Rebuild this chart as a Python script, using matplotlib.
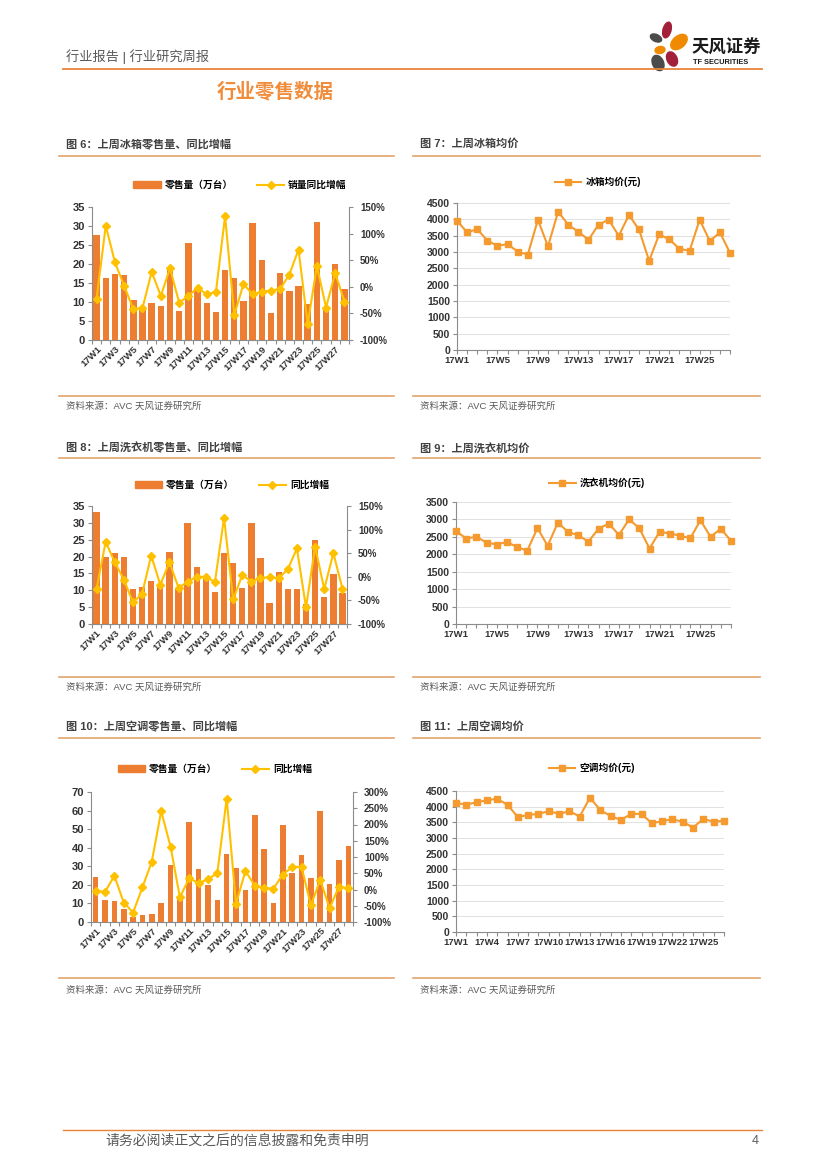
import matplotlib
matplotlib.use('Agg')
import matplotlib.pyplot as plt
import numpy as np
from matplotlib.lines import Line2D
from matplotlib.patches import Ellipse
from matplotlib.ticker import MultipleLocator, FuncFormatter

plt.rcParams['font.family'] = ['Liberation Sans', 'Noto Sans CJK SC', 'DejaVu Sans']
plt.rcParams['font.weight'] = 'bold'
plt.rcParams['axes.unicode_minus'] = False

# ---- data ----
weeks = ['17W%d' % i for i in range(1, 29)]
ac_weeks = weeks[:24] + ['17w25', '17w26', '17w27', '17w28']

fridge_vol = [27.5, 16.4, 17.4, 17.1, 10.5, 8.0, 9.8, 9.0, 18.3, 7.6, 25.6, 13.5, 9.8, 7.4,
              18.5, 16.3, 10.2, 30.8, 21.0, 7.0, 17.7, 13.0, 14.3, 9.4, 31.0, 8.5, 20.0, 13.3]
fridge_yoy = [-22, 115, 46, 2, -42, -40, 28, -17, 35, -30, -17, -2, -14, -10,
              133, -53, 5, -14, -9, -7, -4, 23, 70, -70, 39, -39, 26, -28]
fridge_price = [3960, 3600, 3700, 3350, 3190, 3240, 3015, 2915, 3990, 3170, 4235, 3835, 3620, 3375,
                3835, 3990, 3495, 4130, 3690, 2730, 3540, 3385, 3100, 3035, 3990, 3335, 3600, 2975]

wash_vol = [33.3, 20.0, 21.0, 19.8, 10.5, 11.0, 12.7, 11.0, 21.5, 10.5, 29.9, 16.8, 13.8, 9.4,
            21.0, 18.0, 10.6, 30.0, 19.5, 6.1, 15.3, 10.4, 10.3, 6.0, 25.0, 8.0, 14.8, 9.2]
wash_yoy = [-26, 74, 31, -6, -54, -36, 45, -17, 31, -23, -11, 0, 0, -11,
            125, -48, 4, -10, -2, -1, -3, 16, 60, -65, 64, -26, 50, -25]
wash_price = [2670, 2450, 2505, 2335, 2280, 2355, 2205, 2105, 2755, 2240, 2910, 2640, 2545, 2365,
              2735, 2880, 2555, 3005, 2745, 2165, 2650, 2595, 2535, 2460, 2975, 2500, 2735, 2385]

ac_vol = [24.2, 12.0, 11.5, 7.2, 2.5, 3.9, 4.3, 10.2, 30.8, 13.0, 54.0, 28.8, 20.0, 12.0,
          36.5, 29.0, 17.4, 57.5, 39.2, 10.2, 52.3, 26.3, 36.2, 23.6, 60.0, 20.4, 33.5, 41.0]
ac_yoy = [-4, -7, 42, -40, -71, 7, 86, 241, 132, -24, 35, 19, 32, 50,
          280, -44, 57, 12, 4, 3, 46, 69, 70, -49, 30, -58, 9, 4]
ac_price = [4120, 4065, 4140, 4205, 4255, 4055, 3670, 3735, 3770, 3855, 3770, 3855, 3685, 4290,
            3885, 3705, 3575, 3770, 3770, 3470, 3535, 3600, 3515, 3335, 3610, 3515, 3555]

BAR = '#ED7D31'
GOLD = '#FFC000'
ORANGE = '#F59A2F'
AXC = '#8c8c8c'
TXT = '#333333'
GREY = '#595959'
RULE = '#E2A46C'

W, H = 827, 1169
fig = plt.figure(figsize=(W / 100, H / 100), dpi=100)


def rect(l, t, r, b):
    return [l / W, 1 - b / H, (r - l) / W, (b - t) / H]


def fx(x):
    return x / W


def fy(y):
    return 1 - y / H


def hline(x0, x1, y, color, lw):
    fig.add_artist(Line2D([fx(x0), fx(x1)], [fy(y), fy(y)], transform=fig.transFigure,
                          color=color, lw=lw))


def text(x, y, s, **kw):
    kw.setdefault('va', 'center')
    fig.text(fx(x), fy(y), s, **kw)


def style(ax, ysize):
    for s in ['top', 'right']:
        ax.spines[s].set_visible(False)
    for s in ['left', 'bottom']:
        ax.spines[s].set_color(AXC)
        ax.spines[s].set_linewidth(0.8)
    ax.tick_params(colors=AXC, labelcolor=TXT, length=3, width=0.8, pad=1.5)
    ax.tick_params(axis='y', labelsize=ysize, pad=2)
    ax.tick_params(axis='x', labelsize=6.8)


def combo(box, vol, yoy, vmax, vstep, rlo, rhi, names, ticks, leg_xy, bw):
    ax = fig.add_axes(rect(*box))
    x = np.arange(len(vol))
    ax.bar(x, vol, width=bw, color=BAR, zorder=2)
    ax.set_xlim(-0.5, len(vol) - 0.5)
    ax.set_ylim(0, vmax)
    ax.yaxis.set_major_locator(MultipleLocator(vstep))
    style(ax, 8)
    ax.set_xticks(x[::2])
    ax.set_xticklabels(ticks[:len(vol):2], rotation=45, ha='right', rotation_mode='anchor')
    ax.set_xticks(np.arange(-0.5, len(vol)), minor=True)
    ax.tick_params(axis='x', which='major', length=0, pad=3)
    ax.tick_params(axis='x', which='minor', length=3, color=AXC, width=0.8)
    ax2 = ax.twinx()
    ax2.plot(x, yoy, color=GOLD, lw=1.5, marker='D', ms=4.5, clip_on=False)
    ax2.set_ylim(rlo, rhi)
    ax2.yaxis.set_major_locator(MultipleLocator(50))
    ax2.yaxis.set_major_formatter(FuncFormatter(lambda v, p: '%d%%' % v))
    for s in ['top', 'left', 'bottom']:
        ax2.spines[s].set_visible(False)
    ax2.spines['right'].set_color(AXC)
    ax2.spines['right'].set_linewidth(0.8)
    ax2.tick_params(colors=AXC, labelcolor=TXT, labelsize=7, length=3, width=0.8, pad=5)
    h1 = plt.Rectangle((0, 0), 1, 1, color=BAR)
    h2 = Line2D([], [], color=GOLD, lw=1.5, marker='D', ms=4.5)
    fig.legend([h1, h2], names, loc='center', bbox_to_anchor=(fx(leg_xy[0]), fy(leg_xy[1])),
               ncol=2, frameon=False, handlelength=2.8, handleheight=0.7,
               columnspacing=2.5, handletextpad=0.4, borderaxespad=0, borderpad=0,
               prop={'weight': 'bold', 'size': 7})


def price(box, vals, ymax, ystep, step, name, ticks, leg_xy):
    ax = fig.add_axes(rect(*box))
    x = np.arange(len(vals))
    ax.plot(x, vals, color=ORANGE, lw=1.5, marker='s', ms=5, clip_on=False, zorder=3)
    ax.set_xlim(0, len(vals) - 1)
    ax.set_ylim(0, ymax)
    ax.yaxis.set_major_locator(MultipleLocator(ystep))
    ax.grid(axis='y', color='#dcdcdc', lw=0.6)
    ax.set_axisbelow(True)
    style(ax, 7.5)
    ax.set_xticks(x, minor=True)
    ax.set_xticks(x[::step])
    ax.set_xticklabels(ticks[:len(vals):step])
    ax.tick_params(axis='x', which='minor', length=3, color=AXC, width=0.8)
    h = Line2D([], [], color=ORANGE, lw=1.5, marker='s', ms=5)
    fig.legend([h], [name], loc='center', bbox_to_anchor=(fx(leg_xy[0]), fy(leg_xy[1])),
               frameon=False, handlelength=2.7, handletextpad=0.4, borderaxespad=0, borderpad=0,
               prop={'weight': 'bold', 'size': 7})


# ---- page header ----
text(66, 57, '行业报告 | 行业研究周报', fontsize=9.5, color=GREY, weight='normal')
hline(63, 762, 69, '#E8843A', 1.3)
text(275, 92, '行业零售数据', fontsize=14, color='#F08C3A', weight='bold', ha='center')

lg = fig.add_axes(rect(646, 20, 696, 74))
lg.set_xlim(646, 696)
lg.set_ylim(74, 20)
lg.set_aspect('equal')
lg.axis('off')
for (cx, cy, w, h, a, c) in [(656, 38, 12, 7, 25, '#4b4b4b'), (667, 30, 8, 16, 15, '#A3203A'),
                             (679, 42, 12, 19, 50, '#F08A00'), (660, 50, 10, 7, -10, '#F08A00'),
                             (658, 63, 11, 16, -25, '#4b4b4b'), (672, 59, 10, 15, -25, '#A3203A')]:
    lg.add_patch(Ellipse((cx, cy), w, h, angle=a, color=c))
text(692, 47, '天风证券', fontsize=12.5, weight='bold', color='#1a1a1a')
text(693, 63, 'TF SECURITIES', fontsize=5.3, weight='bold', color='#1a1a1a')

# ---- captions, rules and sources ----
rows = [(144, 156, 396, 406, '图 6：上周冰箱零售量、同比增幅', '图 7：上周冰箱均价'),
        (448, 458, 677, 687, '图 8：上周洗衣机零售量、同比增幅', '图 9：上周洗衣机均价'),
        (727, 738, 978, 990, '图 10：上周空调零售量、同比增幅', '图 11：上周空调均价')]
for ty, ly, sy, st, t1, t2 in rows:
    text(66, ty, t1, fontsize=8, color='#404040', weight='bold')
    text(420, ty, t2, fontsize=8, color='#404040', weight='bold')
    hline(59, 394, ly, RULE, 1.2)
    hline(413, 760, ly, RULE, 1.2)
    hline(59, 394, sy, RULE, 1.2)
    hline(413, 760, sy, RULE, 1.2)
    text(66, st, '资料来源：AVC 天风证券研究所', fontsize=6.8, color=GREY, weight='normal')
    text(420, st, '资料来源：AVC 天风证券研究所', fontsize=6.8, color=GREY, weight='normal')

# ---- charts ----
combo((92, 207, 349, 340), fridge_vol, fridge_yoy, 35, 5, -100, 150,
      ['零售量（万台）', '销量同比增幅'], weeks, (240, 185), 0.7)
price((457, 203, 730, 350), fridge_price, 4500, 500, 4, '冰箱均价(元)', weeks, (598, 182))

combo((92, 506, 347, 624), wash_vol, wash_yoy, 35, 5, -100, 150,
      ['零售量（万台）', '同比增幅'], weeks, (232, 485), 0.7)
price((456, 502, 731, 624), wash_price, 3500, 500, 4, '洗衣机均价(元)', weeks, (597, 483))

combo((91, 792, 353, 922), ac_vol, ac_yoy, 70, 10, -100, 300,
      ['零售量（万台）', '同比增幅'], ac_weeks, (215, 769), 0.6)
price((456, 791, 724, 932), ac_price, 4500, 500, 3, '空调均价(元)', weeks, (592, 768))

# ---- footer ----
hline(63, 762, 1130, '#E8843A', 1.0)
text(105, 1141, '请务必阅读正文之后的信息披露和免责申明', fontsize=10, color=GREY, weight='normal')
text(752, 1141, '4', fontsize=9, color=GREY, weight='normal')

fig.savefig('out.png', dpi=100)
